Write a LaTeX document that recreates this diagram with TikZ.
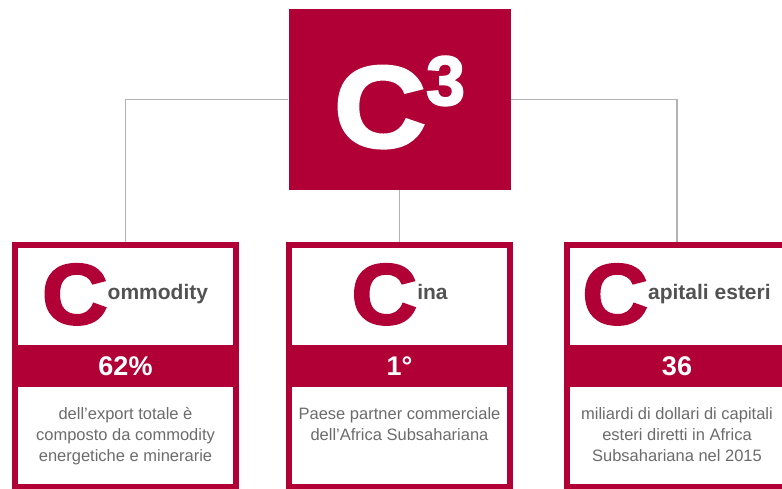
\documentclass[tikz,border=0pt]{standalone}
\usepackage{graphicx}
\usepackage{fontspec}
\setmainfont{Liberation Sans}
\newfontfamily\heavyfont[FakeBold=2.5]{Liberation Sans Bold}
\usepackage{tikz}
\usetikzlibrary{positioning}
\usepackage{xcolor}
\definecolor{cthree}{RGB}{176,0,54}
\newcommand{\capC}{\textcolor{cthree}{\heavyfont\fontsize{86}{86}\selectfont\scalebox{1.06}[1]{C}}}

\begin{document}
\begin{tikzpicture}[
  x=1pt,y=-1pt,
  node distance=20pt,
  hub/.style={rectangle,fill=cthree,minimum width=222pt,minimum height=181pt,inner sep=0pt},
  card/.style={rectangle,draw=cthree,line width=6pt,minimum width=221pt,minimum height=242pt,inner sep=0pt},
  band/.style={rectangle,fill=cthree,minimum width=227pt,minimum height=42pt,inner sep=0pt,
               text=white,font=\fontsize{27}{27}\selectfont\bfseries},
  head/.style={anchor=base,inner sep=0pt,text=black!68,font=\fontsize{21}{21}\selectfont\bfseries},
  desc/.style={align=center,inner sep=0pt,text=black!58,font=\fontsize{16.5}{21}\selectfont},
  link/.style={draw=black!30,line width=1.3pt}
]
\path[use as bounding box,clip] (0,0) rectangle (782,489);
\node[hub] (top) at (399.5,99.5) {};
\node[anchor=base,inner sep=0pt,text=white] (toplabel) at (399.5,147)
  {\heavyfont\fontsize{116}{116}\selectfont\scalebox{1.1}[1]{C}\raisebox{42pt}{\fontsize{70}{70}\selectfont 3}};
\node[card] (card1) at (125.5,366) {};
\node[card] (card2) at (399.5,366) {};
\node[card] (card3) at (677,366) {};
\node[band] (band1) at (card1) {62\%};
\node[band] (band2) at (card2) {1°};
\node[band] (band3) at (card3) {36};
\node[head] (head1) at (125,324) {\capC\raisebox{25pt}{ommodity}};
\node[head] (head2) at (399.5,324) {\capC\raisebox{25pt}{ina}};
\node[head] (head3) at (676.5,324) {\capC\raisebox{25pt}{apitali esteri}};
\node[desc,below=of band1] (desc1) {dell’export totale è\\composto da commodity\\energetiche e minerarie};
\node[desc,below=of band2] (desc2) {Paese partner commerciale\\dell’Africa Subsahariana};
\node[desc,below=of band3] (desc3) {miliardi di dollari di capitali\\esteri diretti in Africa\\Subsahariana nel 2015};
% connectors from the hub
\draw[link] (top.west) -| (card1.north);
\draw[link] (top.south) -- (card2.north);
\draw[link] (top.east) -| (card3.north);
\end{tikzpicture}
\end{document}
